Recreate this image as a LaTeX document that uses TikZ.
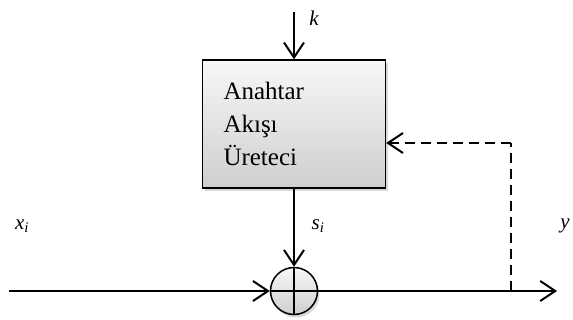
\documentclass[tikz,border=0pt]{standalone}
\usepackage{fontspec}
\setmainfont{Liberation Serif}
\newfontfamily\tmsfont{Liberation Serif}
\usetikzlibrary{arrows.meta,shadows,positioning}

\tikzset{
    blok/.style={draw, line width=1.3pt, top color=gray!6, bottom color=gray!38,
        drop shadow={opacity=0.3, shadow xshift=2pt, shadow yshift=-3pt},
        minimum width=183pt, minimum height=128pt, inner sep=0pt,
        text width=141pt, align=left, font=\tmsfont\fontsize{25}{33}\selectfont},
    toplayici/.style={circle, draw, line width=1.5pt, minimum size=47pt, inner sep=0pt,
        top color=gray!6, bottom color=gray!38,
        drop shadow={opacity=0.3, shadow xshift=2pt, shadow yshift=-3pt}},
    ok/.style={line width=2pt, -{Straight Barb[length=15pt, width=20pt, line width=2pt]}},
    geri/.style={ok, dash pattern=on 10pt off 6pt},
    etiket/.style={font=\tmsfont\fontsize{21}{25}\selectfont\itshape},
}

\begin{document}
\begin{tikzpicture}[x=1pt, y=-1pt]
    \useasboundingbox (0,0) rectangle (573,320);

    % Anahtar akisi ureteci ve XOR
    \node[blok] (uretec) at (294,124) {Anahtar\\Akışı\\Üreteci};
    \node[toplayici] (xor) at (294,291) {};
    \draw[line width=1.5pt] (xor.north) -- (xor.south) (xor.west) -- (xor.east);

    % Uc noktalar
    \coordinate (kbas) at (294,12);
    \coordinate (giris) at (9,291);
    \coordinate (cikis) at (557,291);
    \coordinate (dal) at (511,291);
    \coordinate (kose) at (511,143);

    % Oklar
    \draw[ok] (kbas) -- (uretec.north);
    \draw[ok] (uretec.south) -- (xor.north);
    \draw[ok] (giris) -- (xor.west);
    \draw[ok] (xor.east) -- (cikis);

    % Geri besleme
    \draw[line width=1.6pt, dash pattern=on 10pt off 6pt] (dal) -- (kose);
    \draw[geri] (kose) -- (kose -| uretec.east);

    % Etiketler
    \node[etiket] (k) at (314,18) {k};
    \node[etiket] (xi) at (22,226) {x\textsubscript{i}};
    \node[etiket] (si) at (318,226) {s\textsubscript{i}};
    \node[etiket] (y) at (565,226) {y};
\end{tikzpicture}
\end{document}
